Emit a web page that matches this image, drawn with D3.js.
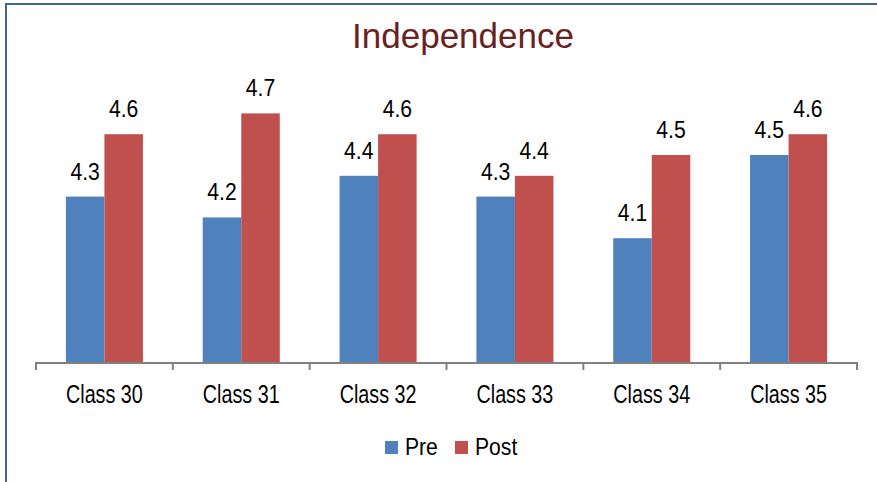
<!DOCTYPE html>
<html>
<head>
<meta charset="utf-8">
<script src="https://cdn.jsdelivr.net/npm/d3@7"></script>
<style>
html,body{margin:0;padding:0;background:#fff;}
svg{display:block;font-family:"Liberation Sans",Arial,sans-serif;}
</style>
</head>
<body>
<svg id="chart" width="877" height="482"></svg>
<script>
const categories = ["Class 30","Class 31","Class 32","Class 33","Class 34","Class 35"];
const seriesNames = ["Pre","Post"];
const preValues = [4.3,4.2,4.4,4.3,4.1,4.5];
const postValues = [4.6,4.7,4.6,4.4,4.5,4.6];
const yDomain = [3.5,4.8];
const colors = ["#4f81bd","#c0504d"];

const svg = d3.select("#chart");

function condense(sel, k){
  sel.each(function(){
    const w=this.getComputedTextLength();
    d3.select(this).attr("textLength",w*k).attr("lengthAdjust","spacingAndGlyphs");
  });
}

// frame
svg.append("rect").attr("x",6).attr("y",4).attr("width",900).attr("height",500)
  .attr("fill","none").attr("stroke","#3f6797").attr("stroke-width",2);

// title
svg.append("text").attr("x",463).attr("y",48).attr("text-anchor","middle")
  .attr("font-size",35).attr("fill","#672222").text("Independence");

const left=36, right=857, base=363;
const x0 = d3.scaleBand().domain(categories).range([left,right]).paddingInner(0.437).paddingOuter(0.2185);
const x1 = d3.scaleBand().domain(seriesNames).range([0,x0.bandwidth()]);
const y = d3.scaleLinear().domain(yDomain).range([base,92.6]);

const data = categories.map((c,i)=>({cat:c, vals:[{s:"Pre",v:preValues[i]},{s:"Post",v:postValues[i]}]}));

const g = svg.append("g");
const groups = g.selectAll("g.cat").data(data).enter().append("g")
  .attr("transform",d=>`translate(${x0(d.cat)},0)`);

groups.selectAll("rect").data(d=>d.vals).enter().append("rect")
  .attr("x",d=>x1(d.s)).attr("width",x1.bandwidth())
  .attr("y",d=>y(d.v)).attr("height",d=>base-y(d.v))
  .attr("fill",(d,i)=>colors[i]);

groups.selectAll("text").data(d=>d.vals).enter().append("text")
  .attr("x",d=>x1(d.s)+x1.bandwidth()/2).attr("y",d=>y(d.v)-17)
  .attr("text-anchor","middle").attr("font-size",23).attr("fill","#000")
  .text(d=>d3.format(".1f")(d.v))
  .call(condense,0.92);

// axis
const step = x0.step();
const bounds = categories.map(c=>x0(c)+x0.bandwidth()/2-step/2).concat([right]);
const axisG = svg.append("g");
axisG.append("line").attr("x1",left).attr("x2",right).attr("y1",base).attr("y2",base)
  .attr("stroke","#808080").attr("stroke-width",2);
axisG.selectAll("line.tick").data(bounds).enter().append("line")
  .attr("x1",d=>d).attr("x2",d=>d).attr("y1",base-1).attr("y2",base+7)
  .attr("stroke","#808080").attr("stroke-width",2);

// category labels (condensed)
axisG.selectAll("text.cat").data(categories).enter().append("text")
  .attr("class","cat")
  .attr("x",d=>x0(d)+x0.bandwidth()/2).attr("y",403)
  .attr("text-anchor","middle").attr("font-size",26).attr("fill","#000")
  .text(d=>d)
  .call(condense,0.76);

// legend
const legend = svg.append("g");
const legX = [385,455];
seriesNames.forEach((s,i)=>{
  legend.append("rect").attr("x",legX[i]).attr("y",441).attr("width",13).attr("height",13).attr("fill",colors[i]);
  legend.append("text").attr("x",legX[i]+20).attr("y",455).attr("font-size",24).attr("fill","#000")
    .text(s).call(condense,0.88);
});
</script>
</body>
</html>
